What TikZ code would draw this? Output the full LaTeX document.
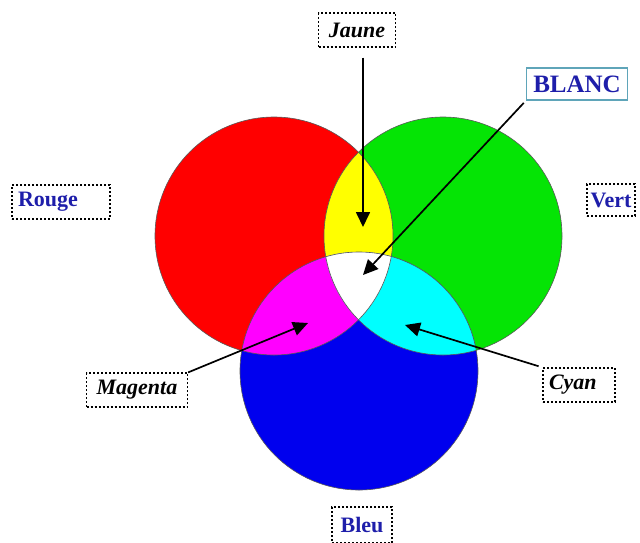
\documentclass[tikz,border=0pt]{standalone}
\usepackage{fontspec}
\setmainfont{Liberation Serif}
\usetikzlibrary{arrows.meta}

\definecolor{circRed}{RGB}{255,0,0}
\definecolor{circGreen}{RGB}{5,228,5}
\definecolor{circBlue}{RGB}{0,0,238}
\definecolor{mixYellow}{RGB}{255,255,0}
\definecolor{mixMagenta}{RGB}{255,0,255}
\definecolor{mixCyan}{RGB}{0,255,255}
\definecolor{labelBlue}{RGB}{30,30,170}
\definecolor{blancFrame}{RGB}{95,165,185}

\begin{document}
\begin{tikzpicture}[x=1pt, y=-1pt,
    dotbox/.style={draw=black, line width=1.2pt, dash pattern=on 2pt off 2pt,
        font=\fontsize{22}{25}\selectfont\bfseries, minimum height=34pt, inner sep=2pt},
    pointer/.style={-{Triangle[length=15pt,width=14pt]}, line width=1.7pt, black},
    rim/.style={draw=black!65, line width=0.6pt}]
    \useasboundingbox (0,0) rectangle (640,542);

    % Three primary circles
    \fill[circRed] (274,236) circle (119pt);
    \fill[circGreen] (443,236) circle (119pt);
    \fill[circBlue] (359,371) circle (119pt);

    % Overlaps
    \begin{scope}
        \clip (274,236) circle (119pt);
        \fill[mixYellow] (443,236) circle (119pt);
        \fill[mixMagenta] (359,371) circle (119pt);
    \end{scope}
    \begin{scope}
        \clip (443,236) circle (119pt);
        \fill[mixCyan] (359,371) circle (119pt);
    \end{scope}
    \begin{scope}
        \clip (274,236) circle (119pt);
        \clip (443,236) circle (119pt);
        \fill[white] (359,371) circle (119pt);
    \end{scope}

    % Outlines
    \draw[rim] (274,236) circle (119pt);
    \draw[rim] (443,236) circle (119pt);
    \draw[rim] (359,371) circle (119pt);

    % Labels
    \node[dotbox, minimum width=77pt] (jaune) at (357,30) {\itshape Jaune};
    \node[draw=blancFrame, line width=1.3pt, font=\fontsize{25}{28}\selectfont\bfseries,
        text=labelBlue, minimum width=101pt, minimum height=32pt, inner sep=2pt]
        (blanc) at (577,84) {BLANC};
    \node[dotbox, text=labelBlue, text width=86pt, align=left, inner xsep=6pt] (rouge) at (61,202) {Rouge};
    \node[dotbox, text=labelBlue, minimum width=48pt, minimum height=32pt] (vert) at (611,200) {Vert};
    \node[dotbox, minimum width=101pt] (magenta) at (137,390) {\itshape Magenta};
    \node[dotbox, text width=60pt, align=left, inner xsep=6pt] (cyan) at (579,385) {\itshape Cyan};
    \node[dotbox, text=labelBlue, minimum width=60pt, minimum height=36pt] (bleu) at (362,525) {Bleu};

    % Arrow ends
    \coordinate (yellowTip) at (363,227);
    \coordinate (whiteTip) at (363,275);
    \coordinate (magentaTip) at (308,323);
    \coordinate (cyanTip) at (405,325);

    % Pointers
    \draw[pointer, shorten <=10pt] (jaune.south -| yellowTip) -- (yellowTip);
    \draw[pointer, shorten <=3pt] (blanc.south west) -- (whiteTip);
    \draw[pointer] (magenta.north east) -- (magentaTip);
    \draw[pointer, shorten <=4pt] (cyan.north west) -- (cyanTip);
\end{tikzpicture}
\end{document}
